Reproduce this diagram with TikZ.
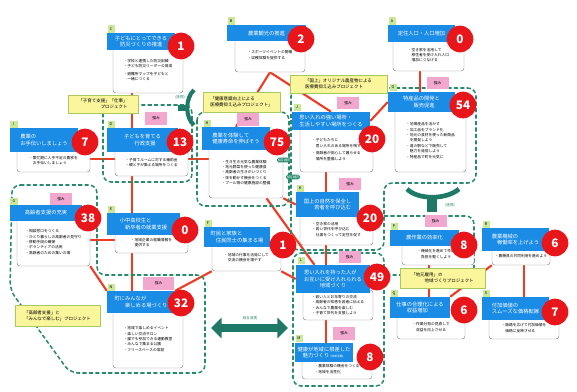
\documentclass[tikz,border=0pt]{standalone}
\usepackage{fontspec}
\setmainfont{Noto Sans CJK JP}
\usetikzlibrary{arrows.meta,backgrounds,calc}
\definecolor{tblue}{HTML}{1A8CE6}
\definecolor{nred}{HTML}{E8161B}
\definecolor{lred}{HTML}{EE3B24}
\definecolor{tealc}{HTML}{2A8A6E}
\definecolor{tealdk}{HTML}{1E7A66}
\definecolor{npink}{HTML}{F2A7CF}
\definecolor{nyel}{HTML}{FBF59B}
\definecolor{nyelb}{HTML}{A8C860}
\definecolor{lgrn}{HTML}{C9E89A}
\definecolor{bgray}{HTML}{8A8A8A}
\tikzset{
  ttl/.style={fill=tblue, text=white, inner sep=1.2pt, align=left,
    font=\fontsize{4.5}{5.7}\selectfont},
  bodybox/.style={draw=bgray, fill=white, rounded corners=2.5pt, line width=0.4pt,
    align=left, inner sep=1pt, font=\fontsize{3.2}{4.6}\selectfont},
  num/.style={circle, fill=nred, text=white, minimum size=0.8cm, inner sep=0pt,
    font=\fontsize{10}{10}\selectfont\bfseries},
  pinktag/.style={fill=npink, minimum width=0.66cm, minimum height=0.38cm, inner sep=0pt,
    font=\fontsize{3.2}{3.2}\selectfont},
  lbl/.style={fill=lgrn, minimum size=0.21cm, inner sep=0pt,
    font=\fontsize{3.2}{3.2}\selectfont},
  note/.style={fill=nyel, draw=nyelb, line width=0.5pt, align=left, inner sep=1.5pt,
    font=\fontsize{3.8}{4.9}\selectfont},
  grp/.style={draw=tealc, line width=1.3pt, dash pattern=on 3.5pt off 2pt, rounded corners=7pt},
  link/.style={draw=lred, line width=1.8pt},
  linktag/.style={fill=tealc, text=white, rounded corners=1.5pt, inner sep=0.8pt,
    font=\fontsize{2.6}{2.6}\selectfont},
  tnote/.style={text=tealc, font=\fontsize{3}{3}\selectfont, inner sep=0pt}
}
\begin{document}
\begin{tikzpicture}[x=0.03cm, y=-0.03cm]
  \useasboundingbox (0,0) rectangle (577,392);
  % dashed project groups
  \draw[grp] (103,105) rectangle (192,182);
  \draw[grp] (197,112) rectangle (289,206);
  \draw[grp] (291,88) -- (476,88) -- (476,183) -- (384,183) -- (384,250) -- (291,250) -- cycle;
  \draw[grp] (293,253) -- (384,253) -- (384,386) -- (293,386) -- cycle;
  \draw[grp] (384,216) -- (474,216) -- (474,275) -- (384,275);
  \draw[grp] (12,185) -- (97,185) -- (97,275) -- (205,275) -- (205,373) -- (70,373) -- (10,290) -- cycle;

  % boxes: body, title, number, letter
  \node (cB) at (148,70) [bodybox, minimum width=2.10cm, minimum height=1.38cm] {・学校と連携した防災訓練\\・子ども防災リーダーの育成\\[2pt]・避難所マップを子どもと\\　一緒につくる};
  \node (cT) at (141,41.5) [ttl, minimum width=2.04cm, minimum height=0.51cm] {子どもにとってできる\\　防災づくりの推進};
  \node (cN) at (181,46) [num] {1};
  \node (cL) at (111,29) [lbl] {C};

  \node (bB) at (270,55) [bodybox, minimum width=2.10cm, minimum height=1.02cm] {・スポーツイベントの開催\\[1pt]・収穫体験を提供する};
  \node (bT) at (266.5,33) [ttl, minimum width=2.37cm, minimum height=0.48cm] {農業観光の推進};
  \node (bN) at (301,39) [num] {2};
  \node (bL) at (231,21) [lbl] {B};

  \node (aB) at (428.5,55) [bodybox, minimum width=2.13cm, minimum height=0.96cm] {・空き家を活用して\\　移住者を受け入れ人口\\　増加につなげる};
  \node (aT) at (421.5,33.5) [ttl, minimum width=2.01cm, minimum height=0.51cm] {定住人口・人口増加};
  \node (aN) at (460,39) [num] {0};
  \node (aL) at (392,21) [lbl] {A};

  \node (oB) at (430.5,140.5) [bodybox, minimum width=2.13cm, minimum height=1.89cm] {・地場産品を活かす\\・加工品をブランド化\\・地元の食材を使った新商品\\　を開発しよう\\・道の駅などで販売して\\　魅力を発信しよう\\・特産品で町を元気に};
  \node (oT) at (421.5,102) [ttl, minimum width=2.01cm, minimum height=0.60cm] {特産品の開発と\\　　販売促進};
  \node (oN) at (463,105) [num] {54};
  \node (oL) at (393,87) [lbl] {O};

  \node (jB) at (336.5,149.5) [bodybox, minimum width=2.19cm, minimum height=1.35cm] {・子どもたちに\\　思い入れのある場所を残す\\[2pt]・高齢者が安心して暮らせる\\　場所を整備しよう};
  \node (jT) at (331,121) [ttl, minimum width=2.34cm, minimum height=0.54cm] {思い入れの強い場所・\\生活しやすい場所をつくる};
  \node (jN) at (372,139) [num] {20};
  \node (jL) at (297,107) [lbl] {J};

  \node (kB) at (336.5,229.5) [bodybox, minimum width=2.19cm, minimum height=0.93cm] {・空き家の活用\\・若い世代を呼び込む\\　仕事をつくって定住を促す};
  \node (kT) at (327.5,204.5) [ttl, minimum width=1.89cm, minimum height=0.75cm] {国上の自然を保全し\\　　若者を呼び込む};
  \node (kN) at (370,218) [num] {20};
  \node (kL) at (300,188) [lbl] {K};

  \node (hB) at (246,172.5) [bodybox, minimum width=2.22cm, minimum height=1.53cm] {・生き生き元気な農業体験\\・地元野菜を使った健康食\\・高齢者の生きがいづくり\\・体を動かす機会をつくる\\・プール等の健康施設の整備};
  \node (hT) at (236,138.5) [ttl, minimum width=2.04cm, minimum height=0.69cm] {農業を体験して\\健康寿命を伸ばそう};
  \node (hN) at (277,142) [num] {75};
  \node (hL) at (207,123) [lbl] {H};

  \node (dB) at (151.5,162.5) [bodybox, minimum width=2.19cm, minimum height=0.81cm] {・子育てルームに対する補助金\\・親と子が集える場所をつくる};
  \node (dT) at (142.5,140) [ttl, minimum width=2.13cm, minimum height=0.72cm] {子どもを育てる\\　　行政支援};
  \node (dN) at (180,142) [num] {13};
  \node (dL) at (111,124) [lbl] {D};

  \node (iB) at (53.5,160.5) [bodybox, minimum width=2.19cm, minimum height=0.69cm] {・繁忙期に人手不足の農家を\\　お手伝いしましょう};
  \node (iT) at (44,140) [ttl, minimum width=2.04cm, minimum height=0.72cm] {農業の\\お手伝いしましょう};
  \node (iN) at (85,142) [num] {7};
  \node (iL) at (14,124) [lbl] {I};

  \node (gB) at (53.5,242) [bodybox, minimum width=2.19cm, minimum height=1.44cm] {・相談窓口をつくる\\・ひとり暮らしの高齢者の見守り\\・移動手段の確保\\・ボランティアの活用\\・高齢者のための集いの場};
  \node (gT) at (46,213) [ttl, minimum width=2.16cm, minimum height=0.48cm] {高齢者支援の充実};
  \node (gN) at (88,218) [num] {38};
  \node (gL) at (14,201) [lbl] {G};

  \node (eB) at (151.5,242.5) [bodybox, minimum width=2.19cm, minimum height=0.63cm] {・地域企業の就職情報を\\　提供する};
  \node (eT) at (143.5,224) [ttl, minimum width=2.19cm, minimum height=0.66cm] {小中高校生と\\　新卒者の就業支援};
  \node (eN) at (185,230) [num] {0};
  \node (eL) at (111,209) [lbl] {E};

  \node (fB) at (246.5,257.5) [bodybox, minimum width=2.07cm, minimum height=0.81cm] {・地域の行事を活発にして\\　交流の機会を増やす};
  \node (fT) at (237,237) [ttl, minimum width=1.98cm, minimum height=0.60cm] {町民と家族と\\　住民同士の集まる場};
  \node (fN) at (283,245) [num] {1};
  \node (fL) at (208,223) [lbl] {F};

  \node (nB) at (148,339) [bodybox, minimum width=2.10cm, minimum height=1.74cm] {・地域で楽しめるイベント\\・楽しい交流サロン\\・誰でも参加できる運動教室\\・みんなで集まる公園\\・フリースペースの常設};
  \node (nT) at (141,302) [ttl, minimum width=2.04cm, minimum height=0.66cm] {町にみんなが\\　　楽しめる場づくり};
  \node (nN) at (181,303) [num] {32};
  \node (nL) at (111,287) [lbl] {N};

  \node (lB) at (338,305) [bodybox, minimum width=2.10cm, minimum height=0.90cm] {・若い人とお年寄りの交流\\・高齢者の知恵を若者に伝える\\・みんなで農業を楽しむ\\・子育て世代を支援しよう};
  \node (lT) at (333,279) [ttl, minimum width=2.22cm, minimum height=0.84cm] {思い入れを持った人が\\お互いに受け入れられる\\　　　地域づくり};
  \node (lN) at (377,277) [num] {49};
  \node (lL) at (301,260) [lbl] {L};

  \node (mB) at (337,369) [bodybox, minimum width=2.10cm, minimum height=0.60cm] {・農業体験の機会をつくる\\・地域を活性化};
  \node (mT) at (324,352.5) [ttl, minimum width=1.74cm, minimum height=0.57cm] {健康が地域に根差した\\　魅力づくり {\fontsize{2.4}{2.4}\selectfont(地域活動)}};
  \node (mN) at (370,357) [num] {8};
  \node (mL) at (299,338) [lbl] {M};

  \node (pB) at (438,254) [bodybox, minimum width=2.16cm, minimum height=0.66cm] {・機械化を進めて作業の\\　負担を軽くしよう};
  \node (pT) at (424.5,238) [ttl, minimum width=2.07cm, minimum height=0.48cm] {農作業の効率化};
  \node (pN) at (464,245) [num] {8};
  \node (pL) at (394,226) [lbl] {P};

  \node (rB) at (521,256.5) [bodybox, minimum width=1.74cm, minimum height=0.51cm] {・農機具の共同利用を進めよう};
  \node (rT) at (515.5,239.5) [ttl, minimum width=2.01cm, minimum height=0.69cm] {農業機械の\\　稼働率を上げよう};
  \node (rN) at (555,243) [num] {6};
  \node (rL) at (486,224) [lbl] {R};

  \node (qB) at (431,327) [bodybox, minimum width=2.04cm, minimum height=0.72cm] {・作業分担の見直しで\\　収益を向上させる};
  \node (qT) at (420,307.5) [ttl, minimum width=1.80cm, minimum height=0.63cm] {仕事の合理化による\\　　収益増加};
  \node (qN) at (464,310) [num] {6};
  \node (qL) at (394,293) [lbl] {Q};

  \node (sB) at (524,328) [bodybox, minimum width=2.10cm, minimum height=0.66cm] {・販路を広げて付加価値を\\　価格に反映させる};
  \node (sT) at (515.5,308.5) [ttl, minimum width=2.01cm, minimum height=0.69cm] {付加価値の\\スムーズな価格転嫁};
  \node (sN) at (555,312) [num] {7};
  \node (sL) at (486,293) [lbl] {S};

  % strengths tags
  \node (dP) at (156,118.5) [pinktag] {強み};
  \node (hP) at (248,119.5) [pinktag] {強み};
  \node (jP) at (348,103) [pinktag] {強み};
  \node (oP) at (437.5,83) [pinktag] {強み};
  \node (kP) at (350,184) [pinktag] {強み};
  \node (lP) at (349.5,257) [pinktag] {強み};
  \node (mP) at (344,333.5) [pinktag] {強み};
  \node (nP) at (158.5,283.5) [pinktag, minimum width=0.93cm] {強み};
  \node (gP) at (61,199) [pinktag] {強み};
  \node (pP) at (435.5,221) [pinktag] {強み};

  % project notes
  \node (dNote) at (103,104) [note, minimum width=2.10cm, minimum height=0.54cm] {「子育て支援」「仕事」\\　　　　　プロジェクト};
  \node (hNote) at (241.5,102) [note, minimum width=2.31cm, minimum height=0.60cm] {「健康意識向上による\\医療費抑え込みプロジェクト」};
  \node (jNote) at (338.5,84) [note, minimum width=2.91cm, minimum height=0.54cm] {「国上」オリジナル農産物による\\医療費抑え込みプロジェクト};
  \node (gNote) at (57.5,315.5) [note, minimum width=2.55cm, minimum height=0.63cm] {「高齢者支援」と\\「みんなで楽しむ」プロジェクト};
  \node (qNote) at (442.5,278) [note, minimum width=2.55cm, minimum height=0.60cm] {「地元雇用」の\\　　　地域づくりプロジェクト};

  % links between groups
  \node (hx1) at (284,160) [linktag] {相互補完};
  \node (hx2) at (293,177) [linktag] {相互補完};
  \draw[tealdk, line width=5pt] (178,108) -- (189,108);
  \draw[tealdk, line width=3.5pt] (194,90) .. controls (185,98) and (185,118) .. (194,125);
  \node (lk1) at (180,97) [tnote] {(連携)};
  \draw[tealdk, line width=4pt] (407,189) .. controls (418,200) and (446,200) .. (459,189);
  \draw[tealdk, line width=8pt] (432,197) -- (432,212);
  \node (lk2) at (450,205) [tnote] {(連携)};
  \coordinate (arwL) at (211,328);
  \coordinate (arwR) at (288,328);
  \draw[tealdk, line width=6pt, {Triangle[width=17pt,length=9pt]}-{Triangle[width=17pt,length=9pt]}] (arwL) -- (arwR);
  \node (arwT) at (250,318) [tnote] {相互連携};

  % red connectors behind the boxes
  \begin{scope}[on background layer]
    \coordinate (colc) at (132,0);
    \coordinate (colj) at (326,0);
    \coordinate (colo) at (420,0);
    \coordinate (colq) at (429,0);
    \coordinate (cols) at (524,0);
    \coordinate (rowd) at (0,159);
    \coordinate (rowe) at (0,240);
    \draw[link] (cB.south -| colc) -- (dT.north -| colc);
    \draw[link] (dB.south -| colc) -- (eT.north -| colc);
    \draw[link] (eB.south -| colc) -- (nT.north -| colc);
    \draw[link] (bB.south) -- (hT.north);
    \draw[link] (bB.south) -- (jT.north);
    \draw[link] (aB.south -| colo) -- (oT.north -| colo);
    \draw[link] (jT.east) -- (oT.west);
    \draw[link] (jB.south -| colj) -- (kT.north -| colj);
    \draw[link] (kB.south -| colj) -- (lT.north -| colj);
    \draw[link] (lB.south -| colj) -- (mT.north -| colj);
    \draw[link] (iB.east |- rowd) -- (dB.west |- rowd);
    \draw[link] (dB.east |- rowd) -- (hB.west |- rowd);
    \draw[link] (gB.east |- rowe) -- (eB.west |- rowe);
    \draw[link] (gB.south east) -- (nT.north west);
    \draw[link] (hB.south east) -- (kT.west);
    \draw[link] ($(hB.south)!0.55!(hB.south east)$) -- ($(lT.north)!0.5!(lT.north west)$);
    \draw[link] (fB.south east) -- (lT.west);
    \draw[link] (fB.south west) -- (nT.north east);
    \draw[link] (pB.south -| colq) -- (qT.north -| colq);
    \draw[link] (rB.south -| cols) -- (sT.north -| cols);
    \draw[link] (qT.north east) -- (rB.south west);
  \end{scope}
\end{tikzpicture}
\end{document}
